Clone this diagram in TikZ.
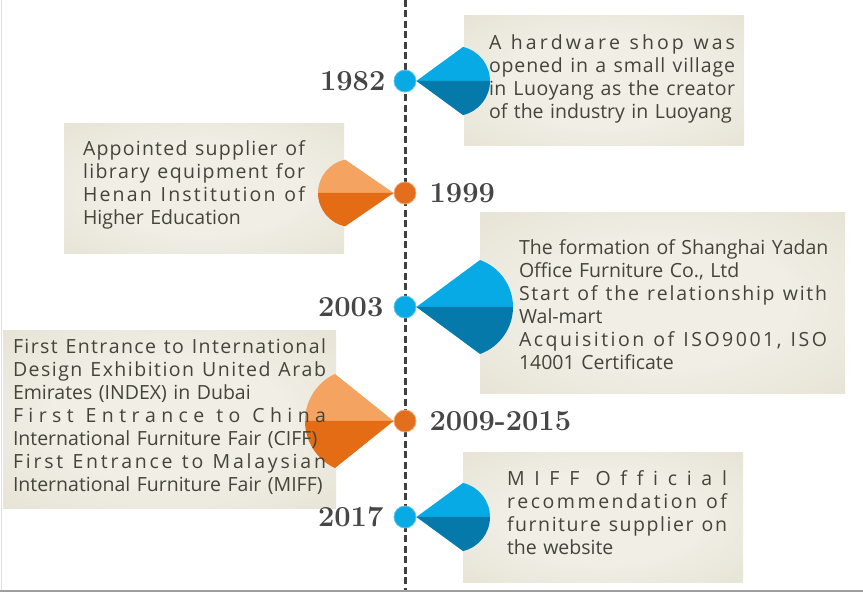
\documentclass[tikz,border=0pt]{standalone}
\usepackage{fontspec}
\usepackage{tikz}
\usetikzlibrary{positioning,calc}
\newfontfamily\boxfont{Open Sans}
\definecolor{ink}{RGB}{68,68,60}
\definecolor{yearink}{RGB}{70,70,70}
\definecolor{rail}{RGB}{64,64,64}
\definecolor{skylt}{RGB}{8,170,230}
\definecolor{skydk}{RGB}{5,122,170}
\definecolor{skyrim}{RGB}{90,196,238}
\definecolor{amberlt}{RGB}{244,163,96}
\definecolor{amberdk}{RGB}{228,108,20}
\definecolor{amberdot}{RGB}{226,110,30}
\definecolor{amberrim}{RGB}{242,168,110}
\definecolor{paperin}{RGB}{240,238,229}
\definecolor{papermid}{RGB}{223,220,201}
\definecolor{paperout}{RGB}{204,199,174}
\pgfdeclareradialshading{paperglow}{\pgfpoint{0bp}{0bp}}{%
  color(0bp)=(paperin); color(18bp)=(paperin); color(50bp)=(papermid); color(71bp)=(paperout)}
\XeTeXinterchartoks 0 0 = {\hfil}
\XeTeXinterchartoks 0 4095 = {\hfil}
\newcommand{\spreadline}[1]{{\XeTeXinterchartokenstate=1
  \makebox[\hsize][s]{#1\hskip 0pt plus -1fil\relax}}}
\newcommand{\fanright}[4]{%
  \fill[skylt] (#1.east) -- ($(#1)+(#2,0)+(-#4:#3)$)
    arc[start angle=-#4,end angle=0,radius=#3] -- cycle;
  \fill[skydk] (#1.east) -- ($(#1)+(#2+#3,0)$)
    arc[start angle=0,end angle=#4,radius=#3] -- cycle;}
\newcommand{\fanleft}[4]{%
  \fill[amberlt] (#1.west) -- ($(#1)+(-#2,0)+(-#4:#3)$)
    arc[start angle=-#4,end angle=-180,radius=#3] -- cycle;
  \fill[amberdk] (#1.west) -- ($(#1)+(-#2-#3,0)$)
    arc[start angle=180,end angle=#4,radius=#3] -- cycle;}
\tikzset{
  paper/.style={rectangle,inner sep=0pt,shade,shading=paperglow},
  tltext/.style={text width=#1,align=left,inner sep=0pt,text=ink,
                 font=\boxfont\fontsize{19.5}{23}\selectfont},
  year/.style={inner sep=0pt,text=yearink,font=\bfseries\fontsize{29}{29}\selectfont},
  bluedot/.style={circle,minimum size=22pt,inner sep=0pt,fill=skylt,draw=skyrim,line width=0.8pt},
  orangedot/.style={bluedot,fill=amberdot,draw=amberrim},
  railline/.style={draw=rail,line width=3pt,dash pattern=on 7pt off 3.5pt}
}
\begin{document}
\begin{tikzpicture}[x=1pt,y=-1pt]
  \useasboundingbox (0,0) rectangle (863,593);
  \fill[white] (0,0) rectangle (863,593);
  \draw[black!12,line width=1pt] (1,0) -- (1,590);
  \draw[black!38,line width=2pt] (0,591.5) -- (863,591.5);

  \node[paper,minimum width=280pt,minimum height=130pt] (box82) at (604,81) {};
  \node[paper,minimum width=280pt,minimum height=130pt] (box99) at (204,189) {};
  \node[paper,minimum width=365pt,minimum height=181pt] (box03) at (662.5,303.5) {};
  \node[paper,minimum width=333pt,minimum height=178pt] (box09) at (169.5,420) {};
  \node[paper,minimum width=280pt,minimum height=130pt] (box17) at (603,518) {};

  \coordinate (railtop) at (405,0);
  \coordinate (railend) at (405,590);
  \draw[railline] (railtop) -- (railend);

  \node[bluedot] (dot82) at (405,81) {};
  \node[orangedot] (dot99) at (405,193) {};
  \node[bluedot] (dot03) at (405,307) {};
  \node[orangedot] (dot09) at (405,421) {};
  \node[bluedot] (dot17) at (405,517) {};

  \fanright{dot82}{50}{35}{76.8}
  \fanleft{dot99}{53}{34}{101.5}
  \fanright{dot03}{58}{50}{70.1}
  \fanleft{dot09}{48}{52}{115.1}
  \fanright{dot17}{50}{35}{76.8}

  \node[year,left=8pt of dot82] (yr82) {1982};
  \node[year,right=13pt of dot99] (yr99) {1999};
  \node[year,left=10pt of dot03] (yr03) {2003};
  \node[year,right=13pt of dot09] (yr09) {2009-2015};
  \node[year,left=10pt of dot17] (yr17) {2017};

  \node[tltext=246pt] (txt82) at (612,78.8) {%
    \spreadline{A hardware shop was}\\
    \spreadline{opened in a small village}\\
    \spreadline{in Luoyang as the creator}\\
    of the industry in Luoyang};
  \node[tltext=222pt] (txt99) at (194,185) {%
    \spreadline{Appointed supplier of}\\
    \spreadline{library equipment for}\\
    \spreadline{Henan Institution of}\\
    Higher Education};
  \node[tltext=308pt] (txt03) at (673,305) {%
    \spreadline{The formation of Shanghai Yadan}\\
    Office Furniture Co., Ltd\\
    \spreadline{Start of the relationship with}\\
    Wal-mart\\
    \spreadline{Acquisition of ISO9001, ISO}\\
    14001 Certificate};
  \node[tltext=313pt] (txt09) at (169.5,417) {%
    \spreadline{First Entrance to International}\\
    \spreadline{Design Exhibition United Arab}\\
    Emirates (INDEX) in Dubai\\
    \spreadline{First Entrance to China}\\
    International Furniture Fair (CIFF)\\
    \spreadline{First Entrance to Malaysian}\\
    International Furniture Fair (MIFF)};
  \node[tltext=220pt] (txt17) at (617,513) {%
    \spreadline{MIFF Official}\\
    \spreadline{recommendation of}\\
    \spreadline{furniture supplier on}\\
    the website};
\end{tikzpicture}
\end{document}
